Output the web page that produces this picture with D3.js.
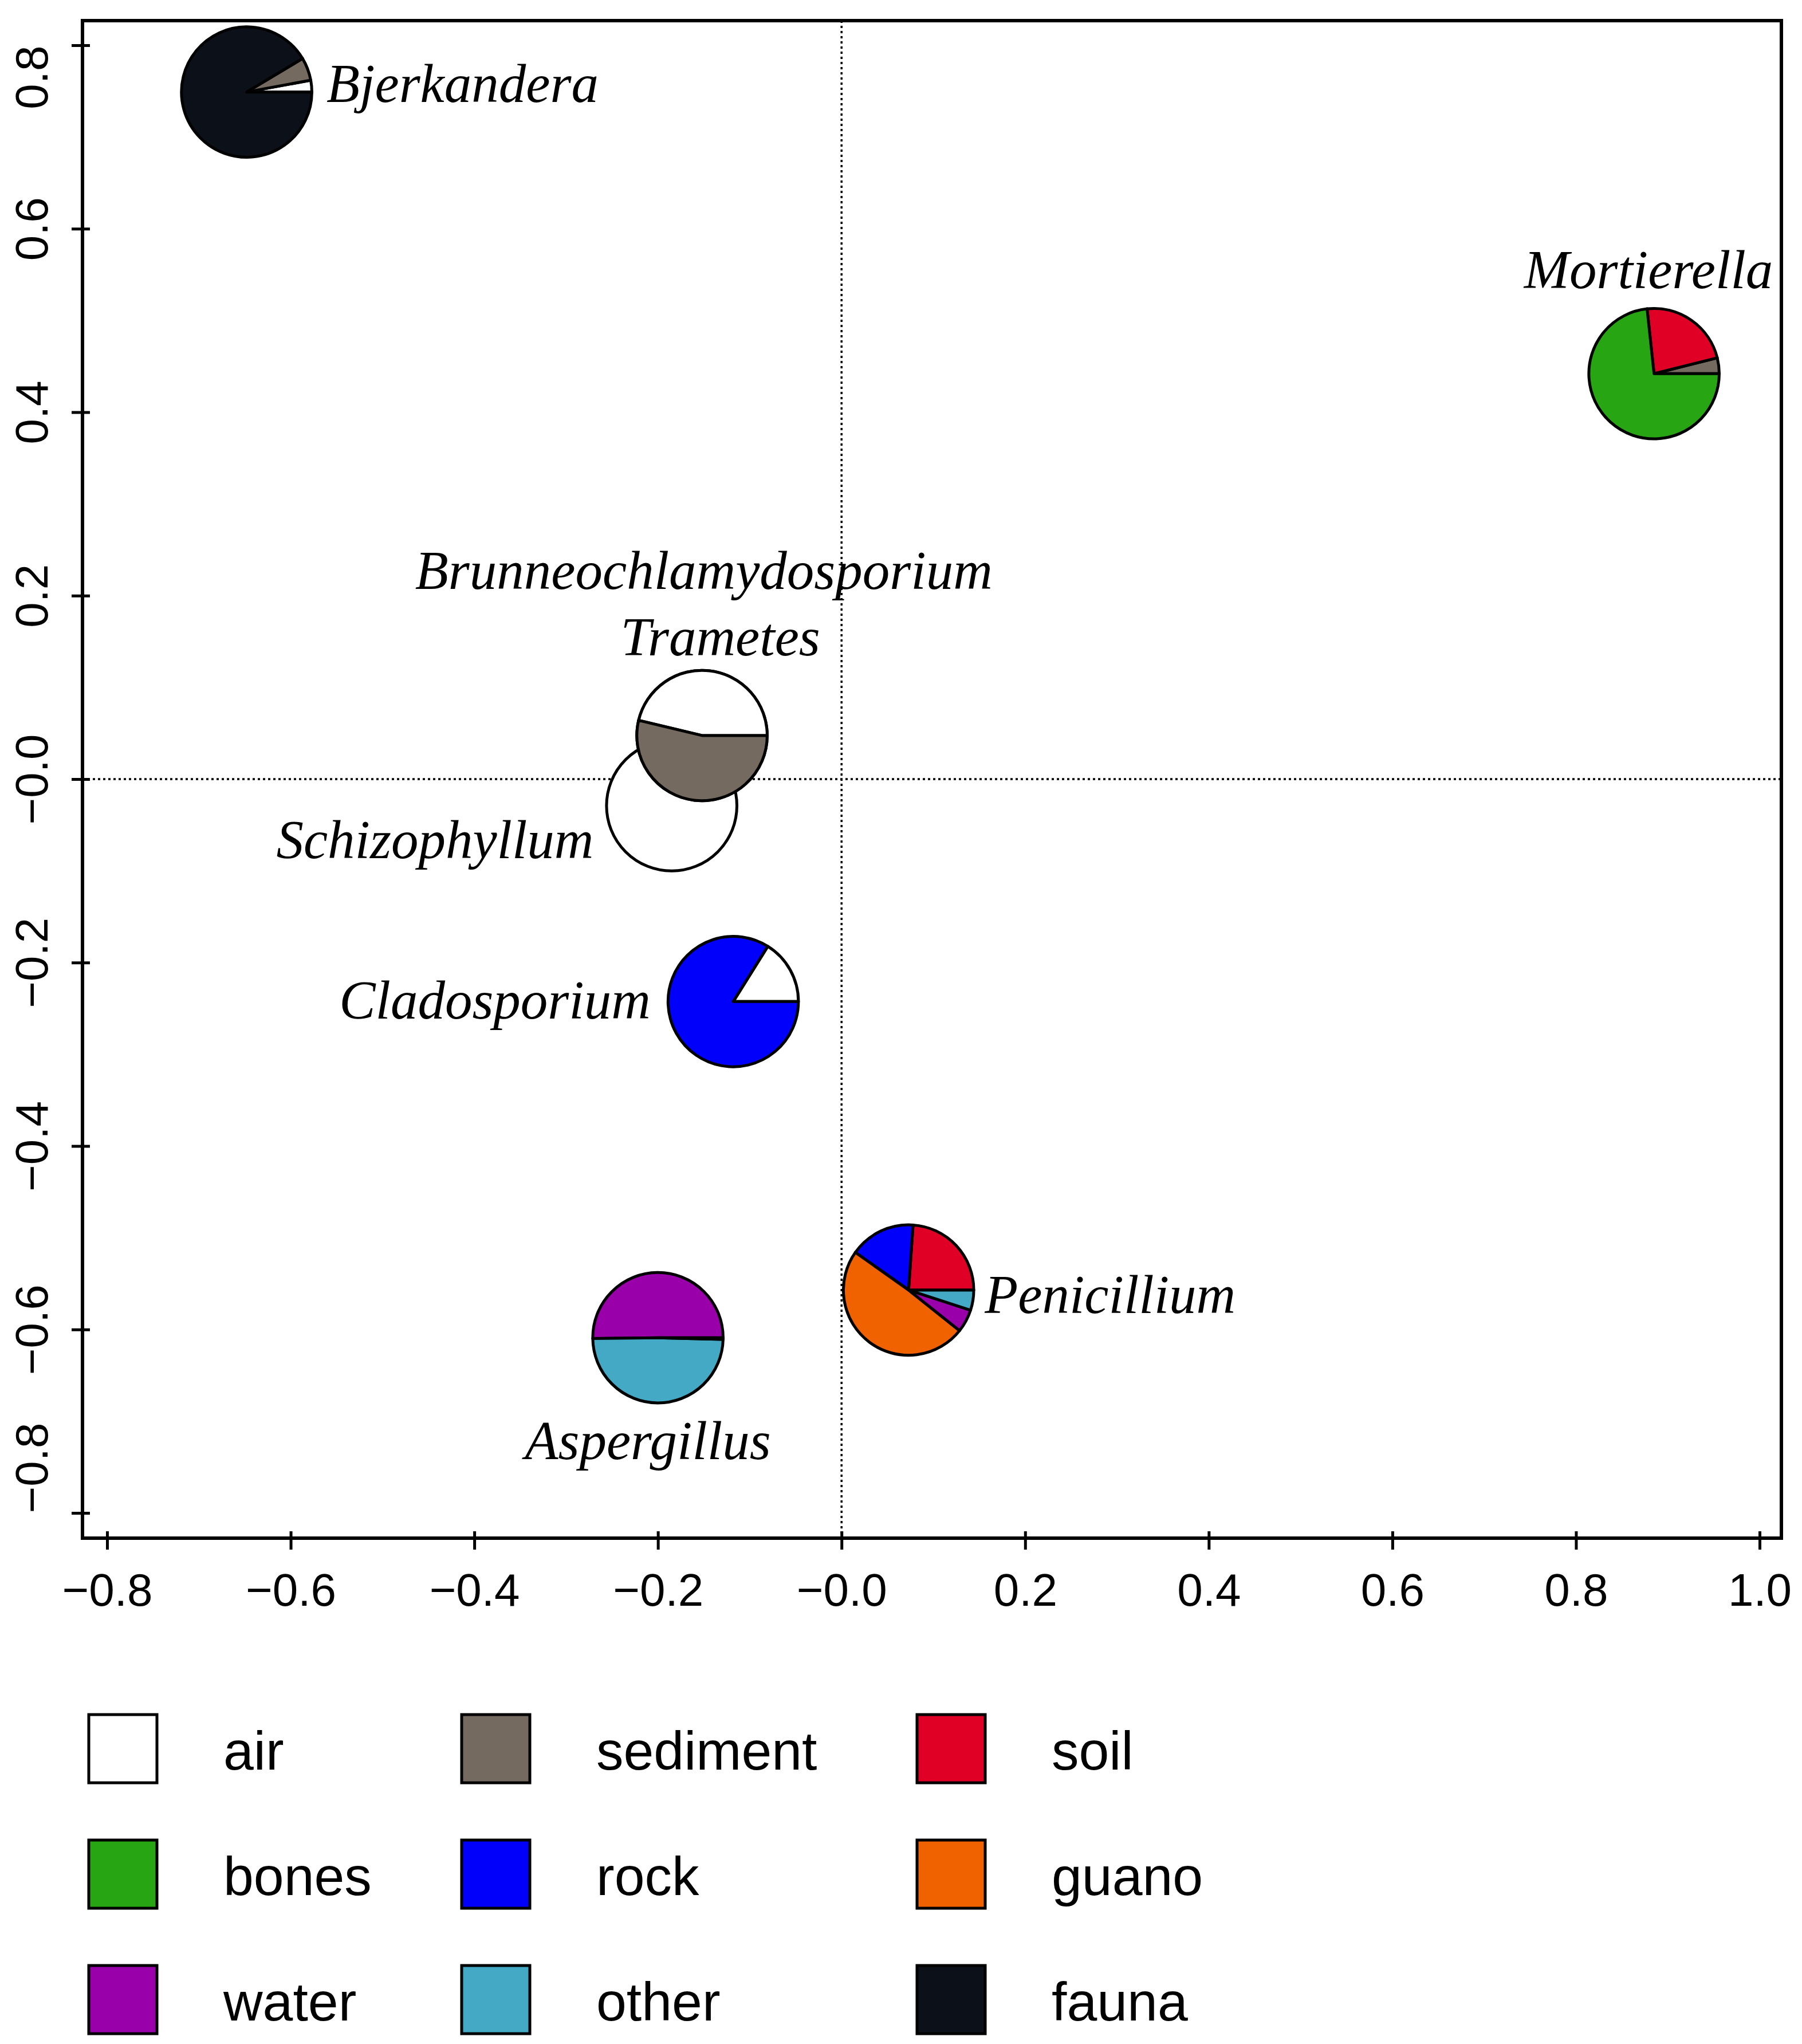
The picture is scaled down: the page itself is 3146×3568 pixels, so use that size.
<!DOCTYPE html>
<html>
<head>
<meta charset="utf-8">
<script src="https://cdn.jsdelivr.net/npm/d3@7"></script>
<style>
  body { margin: 0; background: #fff; }
  svg { display: block; }
</style>
</head>
<body>
<svg id="chart" width="3146" height="3568"></svg>
<script>
// sources, in the order the pie slices run (counterclockwise from 3 o'clock)
const sources = ['air', 'sediment', 'soil', 'bones', 'rock', 'guano', 'water', 'other', 'fauna'];
const sourceColors = ['#ffffff', '#756a5f', '#e00026', '#27a513', '#0000fb', '#f06100', '#9900aa', '#43a9c4', '#0c1018'];

// genera, drawn in this order (later ones on top)
const genera = ['Bjerkandera', 'Mortierella', 'Schizophyllum', 'Brunneochlamydosporium', 'Trametes', 'Cladosporium', 'Penicillium', 'Aspergillus'];
const axis1 = [-0.648, 0.885, -0.185, -0.152, -0.152, -0.118, 0.073, -0.200];
const axis2 = [0.749, 0.442, -0.029, 0.0475, 0.0475, -0.2425, -0.557, -0.609];

// % of isolates per source (same order as sources)
const composition = [
  [2.9, 5.7, 0, 0, 0, 0, 0, 0, 91.4],
  [0, 3.9, 22.8, 73.3, 0, 0, 0, 0, 0],
  [100, 0, 0, 0, 0, 0, 0, 0, 0],
  [46.25, 53.75, 0, 0, 0, 0, 0, 0, 0],
  [46.25, 53.75, 0, 0, 0, 0, 0, 0, 0],
  [16.1, 0, 0, 0, 83.9, 0, 0, 0, 0],
  [0, 0, 23.9, 0, 16.3, 49.1, 5.7, 5.0, 0],
  [0, 0, 0, 0, 0, 0, 50.2, 49.4, 0.4]
];

// where the names were written (text(x, y) in plot units, baseline) and how they are aligned
const labelX = [-0.561, 0.879, -0.270, -0.150, -0.132, -0.208, 0.156, -0.211];
const labelY = [0.738, 0.535, -0.086, 0.2075, 0.135, -0.261, -0.582, -0.741];
const labelAnchor = ['start', 'middle', 'end', 'middle', 'middle', 'end', 'start', 'middle'];

const xTicks = [-0.8, -0.6, -0.4, -0.2, 0, 0.2, 0.4, 0.6, 0.8, 1.0];
const xTickLabels = ['\u22120.8', '\u22120.6', '\u22120.4', '\u22120.2', '\u22120.0', '0.2', '0.4', '0.6', '0.8', '1.0'];
const yTicks = [-0.8, -0.6, -0.4, -0.2, 0, 0.2, 0.4, 0.6, 0.8];
const yTickLabels = ['\u22120.8', '\u22120.6', '\u22120.4', '\u22120.2', '\u22120.0', '0.2', '0.4', '0.6', '0.8'];

const pieRadius = 0.071; // in axis-1 units

// ---- layout
const box = {left: 144, right: 3110, top: 36, bottom: 2685};
const svg = d3.select('#chart');

const xScale = d3.scaleLinear().domain([-0.8, 1.0]).range([187, 3072]);
const yScale = d3.scaleLinear().domain([-0.8, 0.8]).range([2641, 79]);

// dotted zero lines
svg.append('line')
  .attr('x1', xScale(0)).attr('x2', xScale(0))
  .attr('y1', box.top).attr('y2', box.bottom)
  .attr('stroke', '#000').attr('stroke-width', 3.5).attr('stroke-dasharray', '4 5');
svg.append('line')
  .attr('x1', box.left).attr('x2', box.right)
  .attr('y1', yScale(0)).attr('y2', yScale(0))
  .attr('stroke', '#000').attr('stroke-width', 3.5).attr('stroke-dasharray', '4 5');

// axes: ticks cross the frame line, like the original
const xAxis = d3.axisBottom(xScale)
  .tickValues(xTicks)
  .tickFormat((d, i) => xTickLabels[i])
  .tickSize(32)
  .tickPadding(41);

svg.append('g')
  .attr('transform', `translate(0,${box.bottom - 12})`)
  .call(xAxis)
  .call(g => g.select('.domain').remove())
  .call(g => g.selectAll('line').attr('stroke-width', 5))
  .call(g => g.selectAll('text')
    .attr('font-family', 'Liberation Sans, Arial, sans-serif')
    .attr('font-size', 80)
    .attr('fill', '#000'));

const yAxis = d3.axisLeft(yScale)
  .tickValues(yTicks)
  .tickFormat((d, i) => yTickLabels[i])
  .tickSize(32);

svg.append('g')
  .attr('transform', `translate(${box.left + 13},0)`)
  .call(yAxis)
  .call(g => g.select('.domain').remove())
  .call(g => g.selectAll('line').attr('stroke-width', 5))
  .call(g => g.selectAll('text')
    .attr('x', null).attr('dy', null)
    .attr('transform', 'translate(-74,0) rotate(-90)')
    // end labels are pulled inside, as in the original
    .attr('text-anchor', (d, i) => i === 0 ? 'start' : (i === yTicks.length - 1 ? 'end' : 'middle'))
    .attr('font-family', 'Liberation Sans, Arial, sans-serif')
    .attr('font-size', 80)
    .attr('fill', '#000'));

// frame
svg.append('rect')
  .attr('x', box.left).attr('y', box.top)
  .attr('width', box.right - box.left).attr('height', box.bottom - box.top)
  .attr('fill', 'none').attr('stroke', '#000').attr('stroke-width', 6);

// pies, counterclockwise from 3 o'clock like R's pie()
const pie = d3.pie()
  .sort(null)
  .value(d => d.v)
  .startAngle(Math.PI / 2)
  .endAngle(Math.PI / 2 - 2 * Math.PI);

const rPx = xScale(pieRadius) - xScale(0);
const arc = d3.arc().innerRadius(0).outerRadius(rPx);

genera.forEach((name, gi) => {
  const slices = pie(composition[gi].map((v, si) => ({v, si})).filter(d => d.v > 0));
  svg.append('g')
    .attr('transform', `translate(${xScale(axis1[gi])},${yScale(axis2[gi])})`)
    .selectAll('path')
    .data(slices)
    .enter()
    .append('path')
    .attr('d', arc)
    .attr('fill', d => sourceColors[d.data.si])
    .attr('stroke', '#000')
    .attr('stroke-width', 5)
    .attr('stroke-linejoin', 'round');
});

// genus names
svg.append('g')
  .selectAll('text')
  .data(genera)
  .enter()
  .append('text')
  .attr('x', (d, i) => xScale(labelX[i]))
  .attr('y', (d, i) => yScale(labelY[i]))
  .attr('text-anchor', (d, i) => labelAnchor[i])
  .attr('font-family', 'Liberation Serif, Times New Roman, serif')
  .attr('font-style', 'italic')
  .attr('font-size', 95)
  .attr('fill', '#000')
  .text(d => d);

// legend (3 columns, filled by row)
const legendColX = [155, 806, 1601];
const legendRowY = [2993, 3212, 3431];
const legendBox = 119;

const legend = svg.append('g')
  .selectAll('g')
  .data(sources)
  .enter()
  .append('g')
  .attr('transform', (d, i) => `translate(${legendColX[i % 3]},${legendRowY[Math.floor(i / 3)]})`);

legend.append('rect')
  .attr('width', legendBox).attr('height', legendBox)
  .attr('fill', (d, i) => sourceColors[i])
  .attr('stroke', '#000').attr('stroke-width', 5);

legend.append('text')
  .attr('x', legendBox + 116)
  .attr('y', legendBox / 2 + 36)
  .attr('font-family', 'Liberation Sans, Arial, sans-serif')
  .attr('font-size', 95)
  .attr('fill', '#000')
  .text(d => d);
</script>
</body>
</html>
